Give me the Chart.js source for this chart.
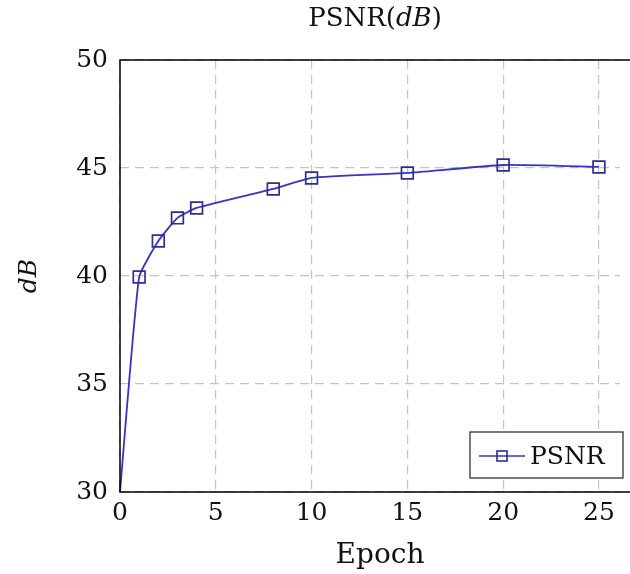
<!DOCTYPE html>
<html><head><meta charset="utf-8">
<script src="https://cdn.jsdelivr.net/npm/chart.js@4/dist/chart.umd.min.js"></script>
<style>html,body{margin:0;padding:0;background:#fff}#wrap{width:630px;height:574px}</style>
</head><body><div id="wrap"><canvas id="c" width="630" height="574"></canvas></div>
<script>
const epochs = [0, 1, 2, 3, 4, 8, 10, 15, 20, 25];
const psnr = [30, 39.95, 41.62, 42.69, 43.15, 44.03, 44.54, 44.77, 45.14, 45.05];
const markerRadius = [0, 8.3, 8.3, 8.3, 8.3, 8.3, 8.3, 8.3, 8.3, 8.3];
const xTicks = [0, 5, 10, 15, 20, 25];
const yTicks = [30, 35, 40, 45, 50];
const seriesLabel = 'PSNR';
const xTitle = 'Epoch';
const yTitle = 'dB';
const FONT = '"DejaVu Serif", "Liberation Serif", serif';

function drawParts(ctx, parts, size, cx, cy) {
  let w = 0;
  parts.forEach(p => { ctx.font = p[1] + ' ' + size + 'px ' + FONT; w += ctx.measureText(p[0]).width; });
  let x = cx - w / 2;
  parts.forEach(p => { ctx.font = p[1] + ' ' + size + 'px ' + FONT; ctx.fillText(p[0], x, cy); x += ctx.measureText(p[0]).width; });
}

const framePlugin = {
  id: 'frame',
  afterDraw(chart) {
    const {ctx, chartArea: a} = chart;
    ctx.save();
    ctx.strokeStyle = '#000'; ctx.lineWidth = 1.5;
    ctx.beginPath();
    ctx.moveTo(chart.width, a.top); ctx.lineTo(a.left, a.top);
    ctx.lineTo(a.left, a.bottom); ctx.lineTo(chart.width, a.bottom);
    ctx.stroke();
    ctx.fillStyle = '#111';
    ctx.textBaseline = 'middle'; ctx.textAlign = 'left';
    drawParts(ctx, [['PSNR(', 'normal'], ['dB', 'italic'], [')', 'normal']], 26, 375, 19);
    ctx.textBaseline = 'alphabetic';
    drawParts(ctx, [[xTitle, 'normal']], 28, 380, 563);
    ctx.save();
    ctx.translate(36, 276); ctx.rotate(-Math.PI / 2);
    drawParts(ctx, [[yTitle, 'italic']], 25, 0, 0);
    ctx.restore();
    const bx = 470, by = 432, bw = 153, bh = 46;
    ctx.fillStyle = '#fff'; ctx.fillRect(bx, by, bw, bh);
    ctx.strokeStyle = '#222'; ctx.lineWidth = 1.2; ctx.strokeRect(bx, by, bw, bh);
    const ds = chart.data.datasets[0];
    ctx.strokeStyle = ds.borderColor; ctx.lineWidth = 1.6;
    ctx.beginPath(); ctx.moveTo(479, 456); ctx.lineTo(525, 456); ctx.stroke();
    ctx.strokeStyle = ds.pointBorderColor; ctx.lineWidth = 1.6;
    ctx.strokeRect(497, 451, 10, 10);
    ctx.fillStyle = '#111'; ctx.font = '25px ' + FONT; ctx.textAlign = 'left'; ctx.textBaseline = 'middle';
    ctx.fillText(ds.label, 530, 457);
    ctx.restore();
  }
};

new Chart(document.getElementById('c'), {
  type: 'line',
  data: {
    datasets: [{
      label: seriesLabel,
      data: epochs.map((e, i) => ({x: e, y: psnr[i]})),
      borderColor: '#3434c8',
      borderWidth: 1.8,
      tension: 0.15,
      pointStyle: 'rect',
      pointRadius: markerRadius,
      pointHoverRadius: markerRadius,
      pointBorderColor: '#2e2e8a',
      pointBorderWidth: 1.7,
      pointBackgroundColor: 'rgba(255,255,255,0)',
      clip: false
    }]
  },
  options: {
    responsive: false,
    animation: false,
    events: [],
    layout: {padding: {left: 0, right: 0, top: 60, bottom: 0}},
    plugins: {legend: {display: false}, title: {display: false}, tooltip: {enabled: false}},
    scales: {
      x: {
        type: 'linear', min: 0, max: 26.1,
        afterBuildTicks: s => { s.ticks = xTicks.map(v => ({value: v})); },
        afterFit: s => { s.height = 82; },
        ticks: {font: {family: FONT, size: 25}, color: '#111', padding: 6, maxRotation: 0},
        grid: {color: '#c4c4c4', drawTicks: false, lineWidth: 1.2},
        border: {display: false, dash: [9, 6]}
      },
      y: {
        type: 'linear', min: 30, max: 50,
        afterBuildTicks: s => { s.ticks = yTicks.map(v => ({value: v})); },
        afterFit: s => { s.width = 120; },
        ticks: {font: {family: FONT, size: 25}, color: '#111', padding: 12},
        grid: {color: '#c4c4c4', drawTicks: false, lineWidth: 1.2},
        border: {display: false, dash: [9, 6]}
      }
    }
  },
  plugins: [framePlugin]
});
</script>
</body></html>
